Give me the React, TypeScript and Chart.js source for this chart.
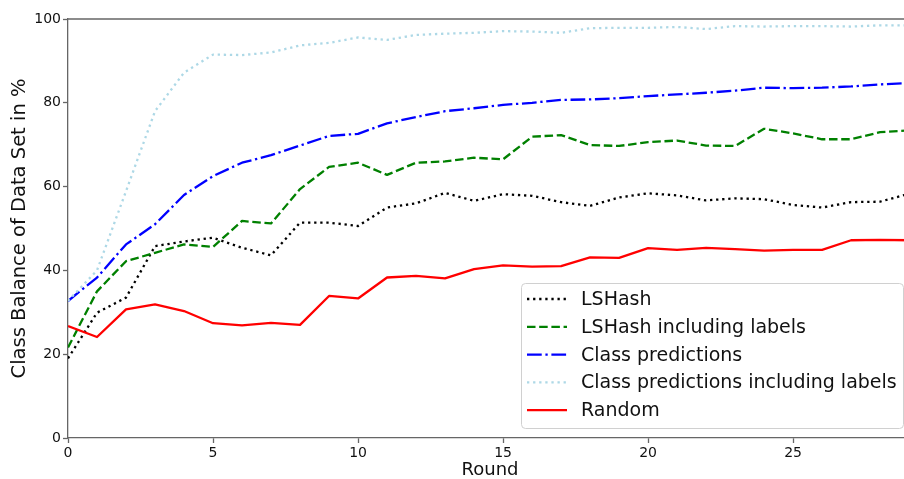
import { useEffect, useRef } from "react";
import { Chart, registerables } from "chart.js";

Chart.register(...registerables);

// Training rounds (x axis)
const rounds = [0, 1, 2, 3, 4, 5, 6, 7, 8, 9, 10, 11, 12, 13, 14, 15, 16, 17, 18, 19, 20, 21, 22, 23, 24, 25, 26, 27, 28, 29];

// Class balance (%) per round for each sampling strategy
const lshash = [19.0, 29.9, 33.5, 45.8, 46.9, 47.8, 45.4, 43.6, 51.4, 51.4, 50.6, 55.0, 56.0, 58.5, 56.6, 58.2, 57.8, 56.3, 55.4, 57.4, 58.4, 57.9, 56.7, 57.2, 57.0, 55.6, 55.0, 56.3, 56.4, 58.3];
const lshashLabels = [21.6, 35.0, 42.2, 44.2, 46.2, 45.6, 51.8, 51.2, 59.4, 64.7, 65.7, 62.8, 65.7, 66.0, 66.9, 66.5, 71.9, 72.3, 69.9, 69.7, 70.6, 71.0, 69.8, 69.7, 73.8, 72.7, 71.3, 71.3, 73.0, 73.4];
const classPred = [32.7, 38.3, 46.2, 51.0, 58.0, 62.5, 65.7, 67.5, 69.8, 72.1, 72.6, 75.1, 76.6, 78.0, 78.7, 79.5, 80.0, 80.7, 80.8, 81.1, 81.6, 82.0, 82.4, 82.9, 83.6, 83.5, 83.6, 83.9, 84.4, 84.7];
const classPredLabels = [32.7, 40.0, 58.9, 78.0, 87.2, 91.5, 91.4, 92.0, 93.7, 94.3, 95.6, 95.0, 96.2, 96.5, 96.7, 97.1, 97.0, 96.7, 97.8, 97.9, 97.9, 98.1, 97.6, 98.3, 98.2, 98.3, 98.3, 98.2, 98.5, 98.5];
const random = [26.7, 24.1, 30.7, 31.9, 30.3, 27.4, 26.9, 27.5, 27.0, 33.9, 33.3, 38.3, 38.7, 38.1, 40.3, 41.2, 40.9, 41.0, 43.1, 43.0, 45.3, 44.9, 45.4, 45.1, 44.7, 44.9, 44.9, 47.2, 47.3, 47.2];

const xTicks = [0, 5, 10, 15, 20, 25];
const yTicks = [0, 20, 40, 60, 80, 100];

const FONT = "'DejaVu Sans', Verdana, sans-serif";
const TEXT = "#111";
const SPINE = "#666";
const LW = 2.3;

const DOTTED = [LW, LW * 1.65];
const DASHED = [LW * 3.7, LW * 1.6];
const DASHDOT = [LW * 6.4, LW * 1.6, LW, LW * 1.6];

const toPoints = (ys: number[]) => rounds.map((r, i) => ({ x: r, y: ys[i] }));

// Top spine of the axes box
const topSpine = {
  id: "topSpine",
  beforeDatasetsDraw(chart: any) {
    const { ctx, chartArea } = chart;
    ctx.save();
    ctx.strokeStyle = SPINE;
    ctx.lineWidth = 1.3;
    ctx.beginPath();
    ctx.moveTo(chartArea.left, chartArea.top);
    ctx.lineTo(chartArea.right, chartArea.top);
    ctx.stroke();
    ctx.restore();
  },
};

// Framed legend in the lower right, drawn from the dataset styles
const boxLegend = {
  id: "boxLegend",
  afterDraw(chart: any) {
    const { ctx } = chart;
    const left = 521;
    const top = 283;
    const right = 903;
    const bottom = 428;
    const rowH = 27.8;
    const firstRow = 299;
    ctx.save();
    ctx.beginPath();
    ctx.roundRect(left + 0.5, top + 0.5, right - left, bottom - top, 4);
    ctx.fillStyle = "rgba(255,255,255,0.8)";
    ctx.fill();
    ctx.strokeStyle = "#d0d0d0";
    ctx.lineWidth = 1;
    ctx.stroke();
    chart.data.datasets.forEach((ds: any, i: number) => {
      const y = firstRow + i * rowH;
      ctx.beginPath();
      ctx.setLineDash(ds.borderDash || []);
      ctx.lineCap = "butt";
      ctx.strokeStyle = ds.borderColor;
      ctx.lineWidth = ds.borderWidth;
      ctx.moveTo(527, y);
      ctx.lineTo(567, y);
      ctx.stroke();
      ctx.setLineDash([]);
      ctx.fillStyle = TEXT;
      ctx.font = `19px ${FONT}`;
      ctx.textBaseline = "middle";
      ctx.textAlign = "left";
      ctx.fillText(ds.label, 581, y + 1);
    });
    ctx.restore();
  },
};

export default function App() {
  const canvasRef = useRef<HTMLCanvasElement | null>(null);

  useEffect(() => {
    const canvas = canvasRef.current;
    if (!canvas) return;
    const series = [
      { label: "LSHash", data: lshash, color: "#000000", dash: DOTTED },
      { label: "LSHash including labels", data: lshashLabels, color: "#008000", dash: DASHED },
      { label: "Class predictions", data: classPred, color: "#0000ff", dash: DASHDOT },
      { label: "Class predictions including labels", data: classPredLabels, color: "#add8e6", dash: DOTTED },
      { label: "Random", data: random, color: "#ff0000", dash: [] as number[] },
    ];
    const chart = new Chart(canvas, {
      type: "line",
      data: {
        datasets: series.map((s, i) => ({
          label: s.label,
          data: toPoints(s.data),
          borderColor: s.color,
          backgroundColor: s.color,
          borderWidth: LW,
          borderDash: s.dash,
          borderCapStyle: "butt",
          borderJoinStyle: "round",
          pointRadius: 0,
          tension: 0,
          fill: false,
          order: series.length - i,
        })),
      },
      options: {
        responsive: false,
        animation: false,
        devicePixelRatio: 1,
        layout: { padding: { top: 19, left: 0, right: 0, bottom: 0 } },
        plugins: {
          legend: { display: false },
          tooltip: { enabled: false },
        },
        scales: {
          x: {
            type: "linear",
            min: 0,
            max: 29.1,
            afterFit: (s: any) => {
              s.height = 41;
            },
            afterBuildTicks: (s: any) => {
              s.ticks = xTicks.map((v) => ({ value: v }));
            },
            grid: {
              display: true,
              drawOnChartArea: false,
              drawTicks: true,
              tickLength: 5,
              tickWidth: 1.3,
              tickColor: SPINE,
            },
            border: { display: true, color: SPINE, width: 1.3 },
            ticks: {
              font: { family: FONT, size: 14 },
              color: TEXT,
              padding: 2,
              maxRotation: 0,
              autoSkip: false,
            },
            title: {
              display: true,
              text: "Round",
              font: { family: FONT, size: 18, lineHeight: 1 },
              color: TEXT,
              padding: { top: 0, bottom: 0 },
            },
          },
          y: {
            type: "linear",
            min: 0,
            max: 100,
            afterFit: (s: any) => {
              s.width = 68;
            },
            afterBuildTicks: (s: any) => {
              s.ticks = yTicks.map((v) => ({ value: v }));
            },
            grid: {
              display: true,
              drawOnChartArea: false,
              drawTicks: true,
              tickLength: 5,
              tickWidth: 1.3,
              tickColor: SPINE,
            },
            border: { display: true, color: SPINE, width: 1.3 },
            ticks: {
              font: { family: FONT, size: 14 },
              color: TEXT,
              padding: 2,
            },
            title: {
              display: true,
              text: "Class Balance of Data Set in %",
              font: { family: FONT, size: 19.5, lineHeight: 1 },
              color: TEXT,
              padding: { top: 10, bottom: 0 },
            },
          },
        },
      },
      plugins: [topSpine, boxLegend],
    } as any);
    return () => chart.destroy();
  }, []);

  return (
    <div
      style={{
        position: "fixed",
        left: 0,
        top: 0,
        width: 904,
        height: 479,
        overflow: "hidden",
        background: "#fff",
      }}
    >
      <canvas ref={canvasRef} width={912} height={479} style={{ display: "block", width: 912, height: 479 }} />
    </div>
  );
}
